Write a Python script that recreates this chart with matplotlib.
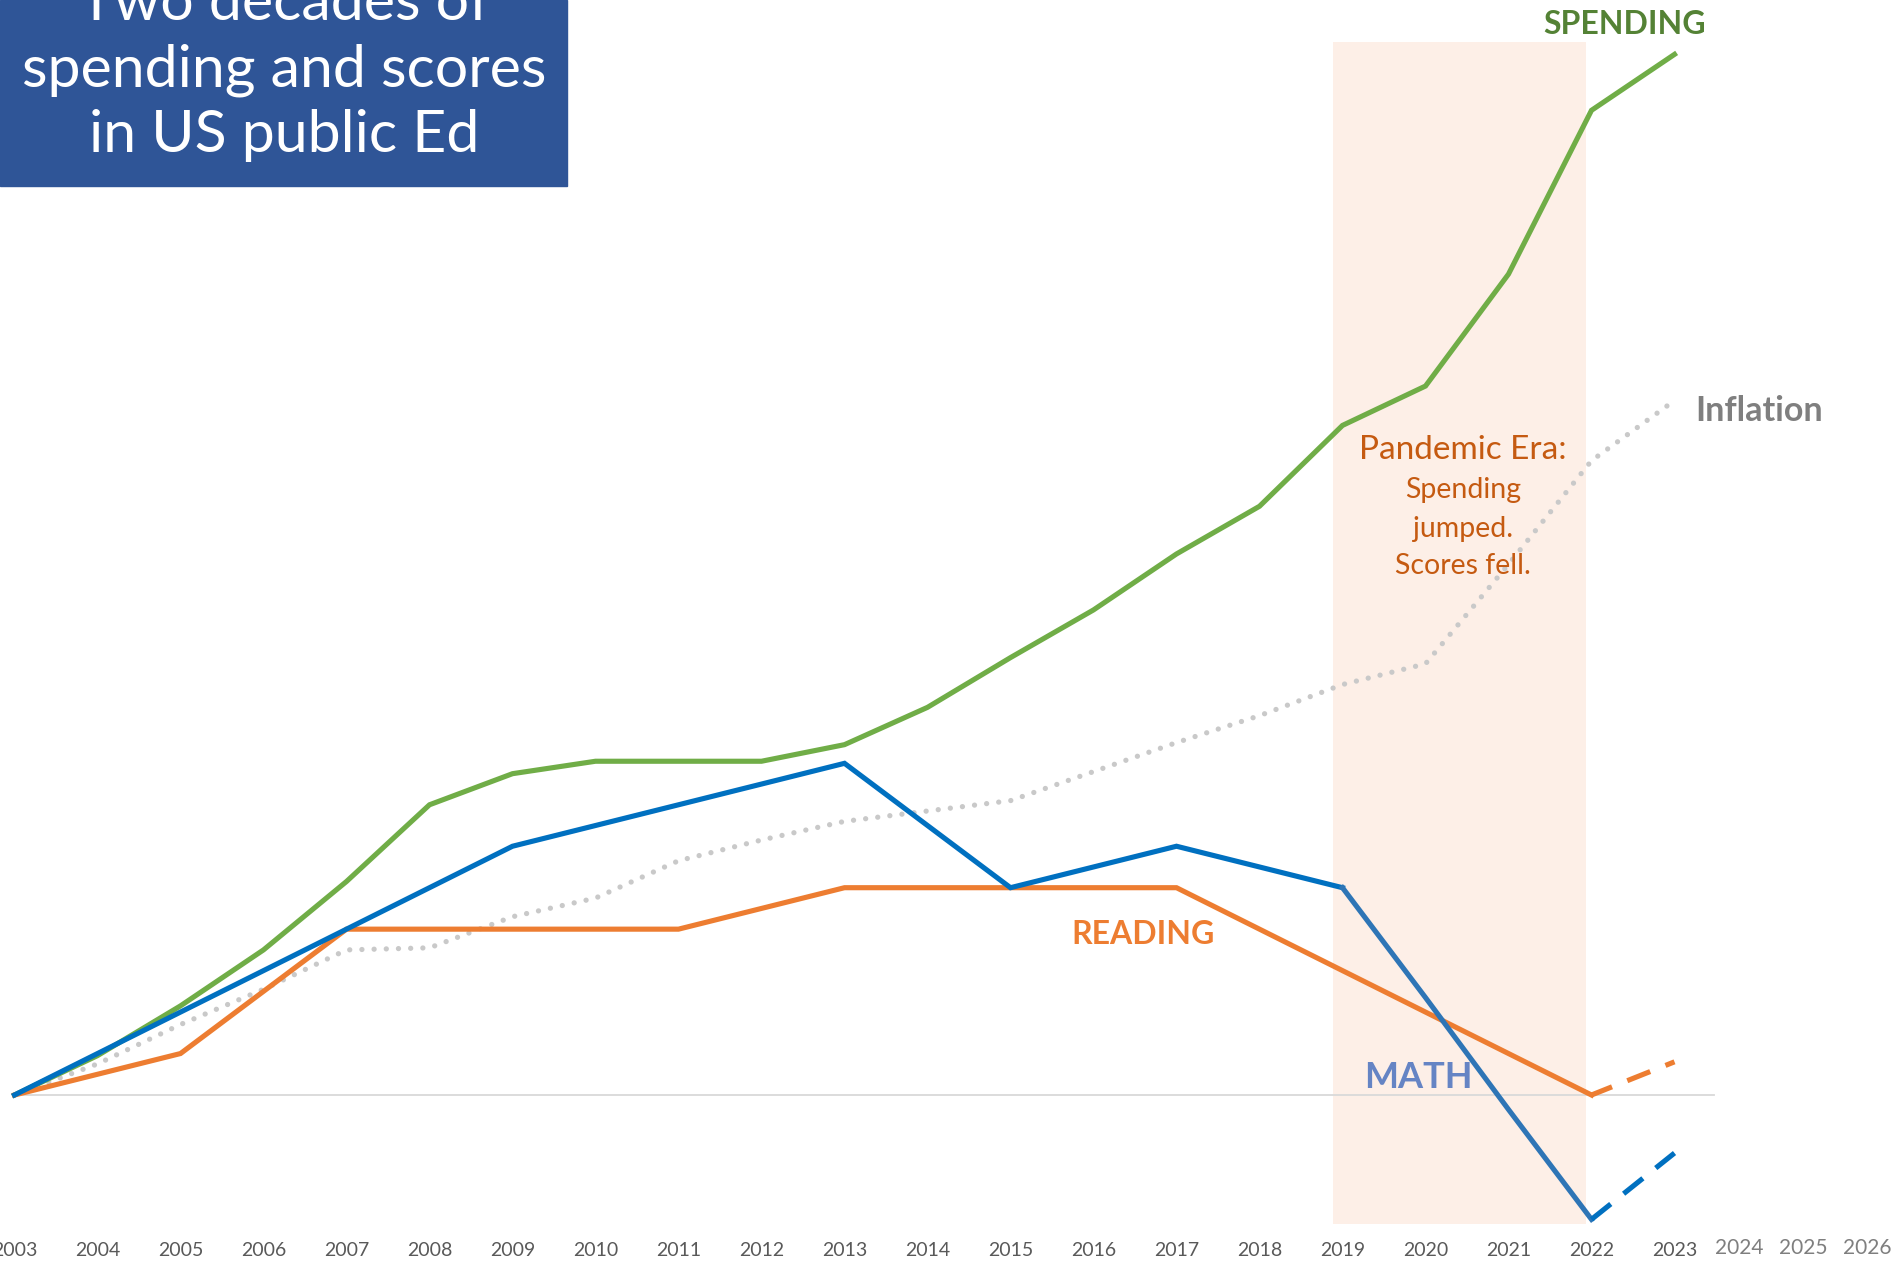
import numpy as np
import matplotlib
matplotlib.use('Agg')
import matplotlib.pyplot as plt
from matplotlib.patches import Rectangle

plt.rcParams['font.family'] = ['Lato', 'DejaVu Sans']

years = list(range(2003, 2024))
spending = [0, 1.9, 4.3, 7.0, 10.3, 14.0, 15.5, 16.1, 16.1, 16.1, 16.9,
            18.7, 21.1, 23.4, 26.1, 28.4, 32.3, 34.2, 39.6, 47.5, 50.2]
inflation = [0, 1.5, 3.4, 5.1, 7.0, 7.1, 8.6, 9.5, 11.3, 12.3, 13.2,
             13.7, 14.2, 15.6, 17.0, 18.3, 19.8, 20.8, 25.6, 30.6, 33.5]
# scores up to 2022, dashed estimate for 2023
math_score = [0, 2, 4, 6, 8, 10, 12, 13, 14, 15, 16, 13, 10, 11, 12, 11, 10, 4.7, -0.7, -6]
reading = [0, 1, 2, 5, 8, 8, 8, 8, 8, 9, 10, 10, 10, 10, 10, 8, 6, 4, 2, 0]
math_2023 = -2.8
reading_2023 = 1.6
pandemic = (2018.88, 2021.93)
extra_years = ['2024', '2025', '2026']

W, H = 1901, 1263
fig = plt.figure(figsize=(W / 100, H / 100), dpi=100)
ax = fig.add_axes([0, 0, 1, 1])
px_year = 83.0
px_unit = 20.73
x0 = 14.5
base = 1095
ax.set_xlim(2003 - x0 / px_year, 2003 + (W - x0) / px_year)
ax.set_ylim(-(H - base) / px_unit, base / px_unit)
ax.axis('off')

# pandemic era band
ax.add_patch(Rectangle((pandemic[0], -6.2), pandemic[1] - pandemic[0], 57.0,
                       color='#fdefe7', zorder=1, lw=0))

ax.plot([2003, 2023.47], [0, 0], color='#d9d9d9', lw=1.3, zorder=2)

yrs = np.array(years)
ax.plot(yrs, inflation, color='#c9c9c9', lw=3.8,
        linestyle=(0, (0.01, 2.3)), dash_capstyle='round', zorder=3)
ax.plot(yrs, spending, color='#70ad47', lw=3.7, zorder=4, solid_joinstyle='miter')
ax.plot(yrs[:20], reading, color='#ed7d31', lw=3.7, zorder=4, solid_joinstyle='miter')
ax.plot(yrs[:17], math_score[:17], color='#0070c0', lw=3.7, zorder=5, solid_joinstyle='miter')
ax.plot(yrs[16:20], math_score[16:], color='#2e75b6', lw=3.7, zorder=5, solid_joinstyle='miter')
ax.plot([2022, 2023], [reading[-1], reading_2023], color='#ed7d31', lw=3.7,
        linestyle=(0.5, (4.8, 3.2)), zorder=4)
ax.plot([2022, 2023], [math_score[-1], math_2023], color='#0070c0', lw=3.7,
        linestyle=(0, (4.8, 3.2)), zorder=5)

# x labels
for y in years:
    ax.text(y, 1 - 1250 / H, str(y), transform=ax.get_xaxis_transform(),
            ha='center', va='center', fontsize=14, color='#595959')
for xp, lab in zip([1739, 1803, 1867], extra_years):
    fig.text(xp / W, 1 - 1248 / H, lab, ha='center', va='center',
             fontsize=15, color='#7f7f7f')

# title box
fig.patches.append(Rectangle((0, 1 - 185.5 / H), 567 / W, 185.5 / H,
                             transform=fig.transFigure, color='#2f5597', zorder=0))
for yp, line in zip([4, 70, 136], ['Two decades of', 'spending and scores', 'in US public Ed']):
    fig.text(284 / W, 1 - yp / H, line, ha='center', va='center',
             fontsize=42.5, color='white')

# series labels
fig.text(1625 / W, 1 - 24 / H, 'SPENDING', ha='center', va='center',
         fontsize=23, fontweight='bold', color='#548235')
fig.text(1695 / W, 1 - 411 / H, 'Inflation', ha='left', va='center',
         fontsize=24.5, fontweight='bold', color='#7f7f7f')
fig.text(1143 / W, 1 - 934 / H, 'READING', ha='center', va='center',
         fontsize=23, fontweight='bold', color='#ed7d31')
fig.text(1418 / W, 1 - 1077 / H, 'MATH', ha='center', va='center',
         fontsize=26, fontweight='bold', color='#6584c4', zorder=10)

fig.text(1463 / W, 1 - 450 / H, 'Pandemic Era:', ha='center', va='center',
         fontsize=24, color='#c55a11')
for yp, line in zip([490, 529, 566], ['Spending', 'jumped.', 'Scores fell.']):
    fig.text(1463 / W, 1 - yp / H, line, ha='center', va='center',
             fontsize=20.5, color='#c55a11')

fig.savefig('out.png', dpi=100)
